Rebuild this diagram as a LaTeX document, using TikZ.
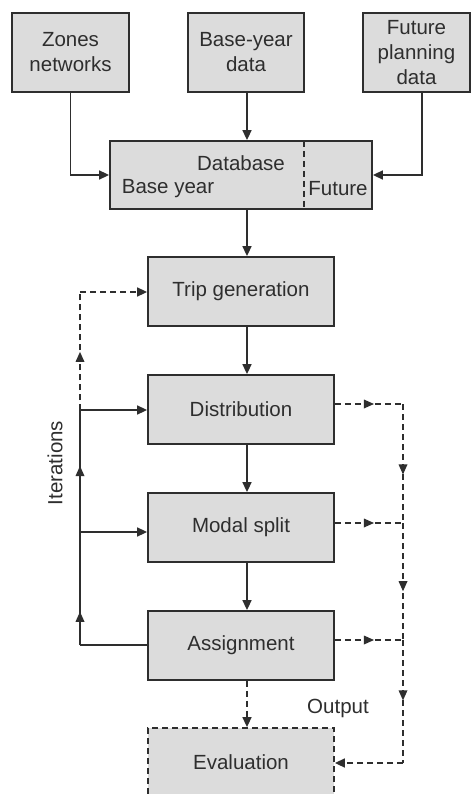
\documentclass[tikz,border=0pt]{standalone}
\usepackage{fontspec}
\setmainfont{Liberation Sans}
\usetikzlibrary{arrows.meta,decorations.markings}
\definecolor{boxfill}{HTML}{DCDCDC}
\definecolor{ink}{HTML}{2E2E2E}
\tikzset{
  box/.style={draw=ink,line width=1.8pt,fill=boxfill,text=ink,align=center,inner sep=0pt,font=\fontsize{20.5}{25}\selectfont},
  lbl/.style={text=ink,inner sep=0pt,font=\fontsize{20.5}{25}\selectfont},
  arr/.style={draw=ink,line width=1.6pt,-{Triangle[length=10pt,width=9pt]}},
  ln/.style={draw=ink,line width=1.6pt},
  dsh/.style={dash pattern=on 6pt off 4pt},
  midarr/.style={postaction={decorate,decoration={markings,mark=at position #1 with {\fill[ink] (5pt,0pt) -- (-5pt,4.5pt) -- (-5pt,-4.5pt) -- cycle;}}}}
}
\begin{document}
\begin{tikzpicture}[x=1pt,y=-1pt]
\useasboundingbox[fill=white] (0,0) rectangle (471,794);
% top boxes
\node[box,minimum width=117pt,minimum height=79pt] (zones) at (70.5,52.5) {Zones\\networks};
\node[box,minimum width=116pt,minimum height=79pt] (base) at (246,52.5) {Base-year\\data};
\node[box,minimum width=107pt,minimum height=79pt] (future) at (416.5,52.5) {Future\\planning\\data};
% database
\node[box,minimum width=262pt,minimum height=68pt] (db) at (241,175) {};
\coordinate (dv1) at (304,141);
\coordinate (dv2) at (304,209);
\draw[ln,dsh] (dv1) -- (dv2);
\node[lbl] (dbt) at (241,163) {Database};
\node[lbl] (dbb) at (168,189) {Base year};
\node[lbl] (dbf) at (338,189) {Future};
% chain
\node[box,minimum width=186pt,minimum height=69pt] (trip) at (241,291.5) {Trip generation};
\node[box,minimum width=186pt,minimum height=69pt] (dist) at (241,409.5) {Distribution};
\node[box,minimum width=186pt,minimum height=69pt] (modal) at (241,527.5) {Modal split};
\node[box,minimum width=186pt,minimum height=69pt] (assign) at (241,645.5) {Assignment};
\node[box,dsh,minimum width=186pt,minimum height=68pt] (eval) at (241,762) {Evaluation};
\node[lbl] (out) at (338,708) {Output};
\node[lbl,rotate=90] (iter) at (55,463) {Iterations};
% helper coordinates
\coordinate (xa) at (247,0);
\coordinate (xf) at (422,0);
% top arrows
\draw[arr] (zones.south) |- (db.west);
\draw[arr] (base.south -| xa) -- (db.north -| xa);
\draw[arr] (future.south -| xf) |- (db.east);
\draw[arr] (db.south -| xa) -- (trip.north -| xa);
\draw[arr] (trip.south -| xa) -- (dist.north -| xa);
\draw[arr] (dist.south -| xa) -- (modal.north -| xa);
\draw[arr] (modal.south -| xa) -- (assign.north -| xa);
\draw[arr,dsh] (assign.south -| xa) -- (eval.north -| xa);
% left loop
\coordinate (la) at (80,645);
\coordinate (lm) at (80,532);
\coordinate (ld) at (80,410);
\coordinate (lt) at (80,292);
\draw[ln] (assign.west |- la) -- (la);
\draw[ln,midarr=0.25] (la) -- (lm);
\draw[ln,midarr=0.5] (lm) -- (ld);
\draw[arr] (lm) -- (modal.west |- lm);
\draw[arr] (ld) -- (dist.west |- ld);
\draw[ln,dsh,midarr=0.45] (ld) -- (lt);
\draw[arr,dsh] (lt) -- (trip.west |- lt);
% right output
\coordinate (rd) at (403,404);
\coordinate (rm) at (403,523);
\coordinate (ra) at (403,640);
\coordinate (re) at (403,763);
\draw[ln,dsh,midarr=0.5] (dist.east |- rd) -- (rd);
\draw[ln,dsh,midarr=0.5] (modal.east |- rm) -- (rm);
\draw[ln,dsh,midarr=0.5] (assign.east |- ra) -- (ra);
\draw[ln,dsh,midarr=0.55] (rd) -- (rm);
\draw[ln,dsh,midarr=0.54] (rm) -- (ra);
\draw[ln,dsh,midarr=0.45] (ra) -- (re);
\draw[arr,dsh] (re) -- (eval.east |- re);
\end{tikzpicture}
\end{document}
